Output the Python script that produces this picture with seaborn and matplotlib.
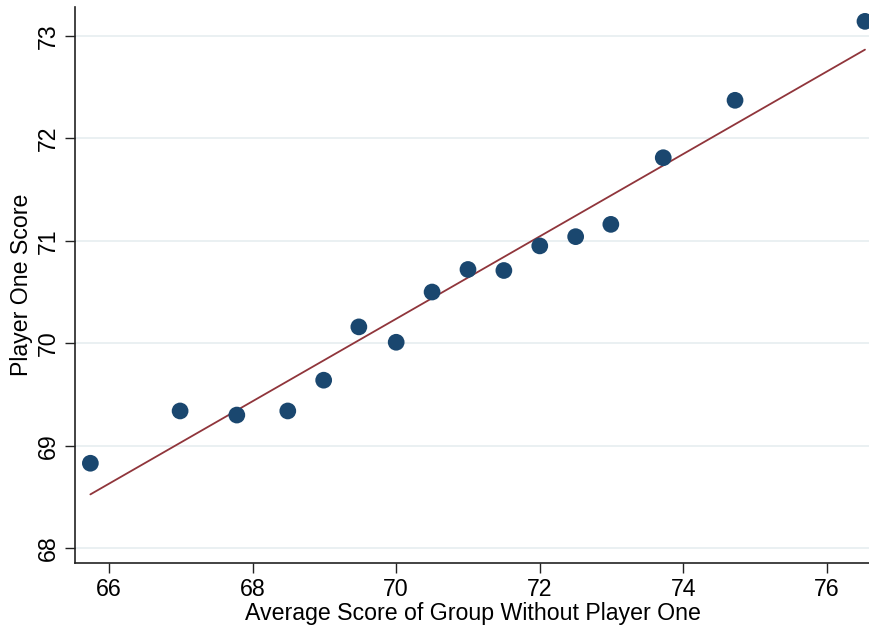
import matplotlib
matplotlib.use("Agg")
import matplotlib.pyplot as plt
import seaborn as sns
import pandas as pd

# Group average (without player one) vs. player one's score
group_avg = [65.74, 66.99, 67.78, 68.49, 68.99, 69.48, 70.00, 70.50,
             71.00, 71.50, 72.00, 72.50, 72.99, 73.72, 74.72, 76.53]
player_one = [68.83, 69.34, 69.30, 69.34, 69.64, 70.16, 70.01, 70.50,
              70.72, 70.71, 70.95, 71.04, 71.16, 71.81, 72.37, 73.14]

x_ticks = [66, 68, 70, 72, 74, 76]
y_ticks = [68, 69, 70, 71, 72, 73]

df = pd.DataFrame({"avg": group_avg, "p1": player_one})

sns.set_theme(style="white")
plt.rcParams["font.family"] = ["Liberation Sans", "DejaVu Sans"]
plt.rcParams.update({"text.color": "black", "axes.labelcolor": "black",
                     "xtick.color": "black", "ytick.color": "black"})

fig = plt.figure(figsize=(8.7, 6.31), dpi=100)
ax = fig.add_axes([75 / 870, 1 - 562.7 / 631, 795 / 870, (562.7 - 7) / 631])

for y in y_ticks:
    ax.axhline(y, color="#e6eef0", lw=1.2, zorder=0)

sns.regplot(data=df, x="avg", y="p1", ax=ax, ci=None,
            scatter_kws=dict(s=145, color="#1a476f", edgecolor="none", alpha=1, zorder=3),
            line_kws=dict(color="#90353b", lw=1.3, zorder=2))

ax.set_xlim(65.526, 76.60)
ax.set_ylim(67.86, 73.28)
ax.set_xticks(x_ticks)
ax.set_yticks(y_ticks)
ax.set_yticklabels([str(v) for v in y_ticks], rotation=90, va="center")

ax.set_xlabel("Average Score of Group Without Player One", fontsize=16.7, labelpad=1)
ax.set_ylabel("Player One Score", fontsize=16.7, labelpad=3)
ax.tick_params(axis="both", labelsize=16.7, length=7, width=1, color="#222222",
               direction="out", bottom=True, left=True, pad=4)

for side in ("top", "right"):
    ax.spines[side].set_visible(False)
for side in ("left", "bottom"):
    ax.spines[side].set_color("#222222")
    ax.spines[side].set_linewidth(1.2)

fig.savefig("out.png", dpi=100, facecolor="white")
